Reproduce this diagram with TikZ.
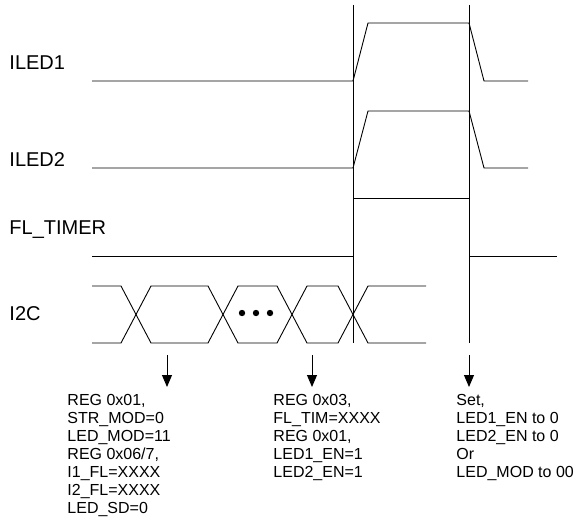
\documentclass[tikz,border=0pt]{standalone}
\usepackage{fontspec}
\setmainfont{Liberation Sans}
\usetikzlibrary{arrows.meta}

\begin{document}
\begin{tikzpicture}[x=1pt,y=-1pt,line width=0.9pt,
  sig/.style={font=\fontsize{20}{24}\selectfont,anchor=base west,inner sep=0pt},
  note/.style={font=\fontsize{16}{18}\selectfont,align=left,anchor=north west,inner sep=0pt},
  pointer/.style={-{Triangle[width=10pt,length=12pt]},line width=0.9pt}]
\useasboundingbox (0,0) rectangle (577,527);
% signal names
\node[sig] (iled1) at (9,69) {ILED1};
\node[sig] (iled2) at (9,166) {ILED2};
\node[sig] (fltimer) at (9,234) {FL\_TIMER};
\node[sig] (itwoc) at (9,320) {I2C};
% time markers
\draw (353,5) -- (353,343);
\draw (469,5) -- (469,343);
% waveforms
\draw (92,81) -- (353,81) -- (368,23) -- (469,23) -- (484,81) -- (528,81);
\draw (92,168) -- (353,168) -- (368,111) -- (469,111) -- (484,168) -- (528,168);
\draw (92,256) -- (353,256) -- (353,198) -- (469,198) -- (469,256) -- (557,256);
\foreach \ya/\yb in {286/343,343/286}
  \draw (92,\ya) -- (121,\ya) -- (151,\yb) -- (208,\yb) -- (238,\ya) -- (277,\ya)
    -- (307,\yb) -- (338,\yb) -- (368,\ya) -- (426,\ya);
\foreach \x in {242,256,270}
  \fill (\x,313) circle (3.2pt);
% register writes
\coordinate (a1) at (167,355);
\coordinate (a2) at (312,355);
\coordinate (a3) at (469,355);
\coordinate (b1) at (167,387);
\coordinate (b2) at (312,387);
\coordinate (b3) at (469,387);
\draw[pointer] (a1) -- (b1);
\draw[pointer] (a2) -- (b2);
\draw[pointer] (a3) -- (b3);
\node[note] (setup) at (67,394) {REG 0x01,\\STR\_MOD=0\\LED\_MOD=11\\REG 0x06/7,\\I1\_FL=XXXX\\I2\_FL=XXXX\\LED\_SD=0};
\node[note] (start) at (273,394) {REG 0x03,\\FL\_TIM=XXXX\\REG 0x01,\\LED1\_EN=1\\LED2\_EN=1};
\node[note] (stop) at (456,394) {Set,\\LED1\_EN to 0\\LED2\_EN to 0\\Or\\LED\_MOD to 00};
\end{tikzpicture}
\end{document}
